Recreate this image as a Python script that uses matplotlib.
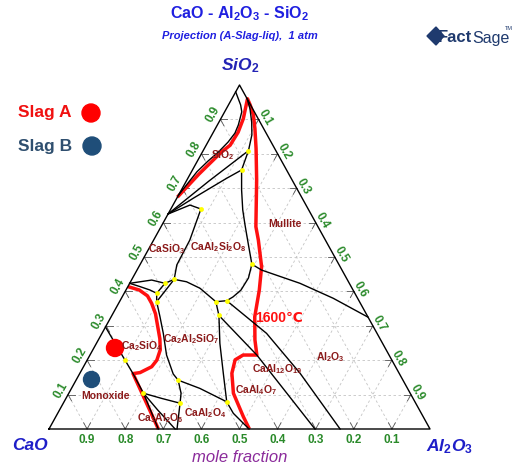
import matplotlib.pyplot as plt
import numpy as np
from matplotlib.patches import Circle, Polygon

plt.rcParams['font.family'] = ['Liberation Sans', 'DejaVu Sans']
plt.rcParams['mathtext.fontset'] = 'custom'
plt.rcParams['mathtext.rm'] = 'Liberation Sans:bold'
plt.rcParams['mathtext.it'] = 'Liberation Sans:italic:bold'
plt.rcParams['mathtext.bf'] = 'Liberation Sans:bold'

# all compositions are (Al2O3, SiO2) mole fractions, CaO = 1 - both
miscibility_gap = [(0.0, 0.68), (0.006, 0.709), (0.0145, 0.748), (0.028, 0.779), (0.042, 0.805),
                   (0.053, 0.834), (0.058, 0.860), (0.055, 0.884), (0.045, 0.922), (0.032, 0.942),
                   (0.0, 0.98)]
sio2_mullite = [(0.04, 0.96), (0.062, 0.931), (0.086, 0.892), (0.105, 0.855), (0.119, 0.809)]
silica_link = [(0.119, 0.809), (0.129, 0.753)]
silica_upper = [(0.0, 0.625), (0.0595, 0.721), (0.119, 0.809)]
silica_lower = [(0.0, 0.625), (0.0434, 0.671), (0.102, 0.729), (0.129, 0.753)]
silica_casio3 = [(0.0, 0.625), (0.0445, 0.651), (0.079, 0.6395)]
casio3_anorthite = [(0.079, 0.6395), (0.095, 0.549), (0.097, 0.477), (0.111, 0.435)]
anorthite_mullite = [(0.129, 0.753), (0.158, 0.695), (0.190, 0.637), (0.218, 0.593),
                     (0.256, 0.535), (0.293, 0.479)]
mullite_corundum = [(0.293, 0.479), (0.327, 0.462), (0.447, 0.4235), (0.556, 0.380), (0.675, 0.325)]
anorthite_corundum = [(0.293, 0.479), (0.304, 0.439), (0.302, 0.404), (0.291, 0.384), (0.280, 0.373)]
corundum_link = [(0.280, 0.373), (0.253, 0.370)]
anorthite_gehlenite = [(0.253, 0.370), (0.192, 0.409), (0.147, 0.428), (0.111, 0.435)]
gehlenite_right = [(0.253, 0.370), (0.281, 0.330), (0.324, 0.249), (0.3765, 0.162), (0.427, 0.079)]
ca_ca2 = [(0.427, 0.079), (0.461, 0.0456), (0.525, 0.0)]
ca2_ca6 = [(0.281, 0.330), (0.438, 0.215), (0.698, 0.0)]
ca6_corundum = [(0.280, 0.373), (0.432, 0.278), (0.578, 0.162), (0.764, 0.0)]
wollastonite_low = [(0.0, 0.4235), (0.053, 0.433), (0.0927, 0.4235), (0.111, 0.435)]
rankinite_low = [(0.0, 0.4235), (0.0317, 0.414), (0.063, 0.404), (0.0854, 0.3945), (0.0976, 0.370)]
rankinite_link = [(0.0927, 0.4235), (0.0854, 0.3945)]
gehlenite_top = [(0.111, 0.435), (0.0976, 0.370)]
c2s_gehlenite = [(0.0976, 0.370), (0.128, 0.3265), (0.161, 0.278), (0.201, 0.215),
                 (0.246, 0.160), (0.268, 0.142)]
gehlenite_ca = [(0.268, 0.142), (0.337, 0.118), (0.427, 0.079)]
gehlenite_c3a = [(0.268, 0.142), (0.2946, 0.104), (0.3065, 0.075)]
c3a_ca = [(0.196, 0.104), (0.251, 0.089), (0.3065, 0.075)]
c3a_low = [(0.196, 0.104), (0.258, 0.055), (0.331, 0.0)]
ca_low = [(0.3065, 0.075), (0.336, 0.0)]
monoxide_c2s = [(0.0, 0.2965), (0.099, 0.2006), (0.140, 0.161), (0.196, 0.104), (0.287, 0.0)]

black_lines = [miscibility_gap, sio2_mullite, silica_link, silica_upper, silica_lower, silica_casio3,
               casio3_anorthite, anorthite_mullite, mullite_corundum, anorthite_corundum,
               corundum_link, anorthite_gehlenite, gehlenite_right, ca_ca2, ca2_ca6, ca6_corundum,
               wollastonite_low, rankinite_low, rankinite_link, gehlenite_top, c2s_gehlenite,
               gehlenite_ca, gehlenite_c3a, c3a_ca, c3a_low, ca_low, monoxide_c2s]

# 1600 C isotherm
iso_1600_main = [(0.0, 0.674), (0.023, 0.741), (0.050, 0.805), (0.063, 0.825), (0.065, 0.863),
                 (0.059, 0.902), (0.041, 0.960), (0.057, 0.942), (0.080, 0.913), (0.104, 0.873),
                 (0.136, 0.815), (0.183, 0.724), (0.249, 0.588), (0.275, 0.549), (0.322, 0.472),
                 (0.350, 0.404), (0.377, 0.326), (0.411, 0.259), (0.438, 0.215), (0.402, 0.215),
                 (0.388, 0.201), (0.399, 0.162), (0.432, 0.104), (0.492, 0.036), (0.526, 0.0)]
iso_1600_c2s = [(0.0, 0.414), (0.035, 0.404), (0.065, 0.387), (0.087, 0.365), (0.112, 0.335),
                (0.137, 0.297), (0.160, 0.262), (0.177, 0.230), (0.183, 0.200), (0.179, 0.181),
                (0.157, 0.164), (0.140, 0.161), (0.287, 0.0)]

invariant_pts = [(0.119, 0.809), (0.129, 0.753), (0.079, 0.6395), (0.111, 0.435), (0.0927, 0.4235),
                 (0.0854, 0.3945), (0.0976, 0.370), (0.293, 0.479), (0.280, 0.373), (0.253, 0.370),
                 (0.281, 0.330), (0.427, 0.079), (0.268, 0.142), (0.3065, 0.075), (0.196, 0.104),
                 (0.099, 0.2006)]

slag_a = (0.0555, 0.2355)
slag_b = (0.0396, 0.1439)

ticks = [0.1, 0.2, 0.3, 0.4, 0.5, 0.6, 0.7, 0.8, 0.9]

phase_labels = [('SiO$_2$', 223, 155), ('Mullite', 285, 224), ('CaSiO$_3$', 167, 249),
                ('CaAl$_2$Si$_2$O$_8$', 218, 247), ('Ca$_2$SiO$_4$', 142, 346),
                ('Ca$_2$Al$_2$SiO$_7$', 191, 339), ('Al$_2$O$_3$', 330, 357),
                ('CaAl$_{12}$O$_{19}$', 277, 369), ('CaAl$_4$O$_7$', 256, 390),
                ('CaAl$_2$O$_4$', 205, 413), ('Ca$_3$Al$_2$O$_6$', 160, 418), ('Monoxide', 106, 396)]

# triangle corners in figure pixels
X0, Y0, W, H = 49.0, 429.0, 381.0, 344.0


def tern(pts):
    p = np.atleast_2d(np.array(pts, dtype=float))
    a, s = p[:, 0], p[:, 1]
    return X0 + W * a + 0.5 * W * s, Y0 - H * s


fig = plt.figure(figsize=(5.19, 4.66), dpi=100)
ax = fig.add_axes([0, 0, 1, 1])
ax.set_xlim(0, 519)
ax.set_ylim(466, 0)
ax.axis('off')

# grid
for v in ticks:
    for seg in ([(0, v), (1 - v, v)], [(v, 0), (v, 1 - v)], [(1 - v, 0), (0, 1 - v)]):
        x, y = tern(seg)
        ax.plot(x, y, color='#C4C4C4', lw=0.6, dashes=(3, 3), zorder=1)
    t = 0.018
    for seg in ([(v, 0), (v, t)], [(v, 0), (v - t, t)], [(0, v), (t, v)], [(0, v), (t, v - t)],
                [(v, 1 - v), (v, 1 - v - t)], [(v, 1 - v), (v - t, 1 - v)]):
        x, y = tern(seg)
        ax.plot(x, y, color='#555555', lw=0.6, zorder=2)

x, y = tern([(0, 0), (1, 0), (0, 1), (0, 0)])
ax.plot(x, y, color='black', lw=1.0, zorder=5)

for line in black_lines:
    x, y = tern(line)
    ax.plot(x, y, color='black', lw=1.0, zorder=4)

for line in (iso_1600_main, iso_1600_c2s):
    x, y = tern(line)
    ax.plot(x, y, color='#FF1010', lw=2.5, zorder=3, solid_capstyle='butt')

x, y = tern(invariant_pts)
ax.plot(x, y, 'o', color='#FFFF00', ms=3.5, mec='none', zorder=6)

x, y = tern(slag_a)
ax.add_patch(Circle((x[0], y[0]), 8.5, color='#FF0000', zorder=7))
x, y = tern(slag_b)
ax.add_patch(Circle((x[0], y[0]), 8, color='#1F4E79', zorder=7))

# tick labels
green = '#2A8A2A'
for v in ticks:
    x, y = tern((1 - v, 0))
    ax.text(x[0], y[0] + 11, f'{v:.1f}', color=green, fontsize=8.5, weight='bold', ha='center', va='center')
    x, y = tern((0, v))
    ax.text(x[0] - 7.5, y[0] - 4.5, f'{v:.1f}', color=green, fontsize=8.5, weight='bold',
            ha='center', va='center', rotation=60)
    x, y = tern((v, 1 - v))
    ax.text(x[0] + 6.5, y[0] - 2, f'{v:.1f}', color=green, fontsize=8.5, weight='bold',
            ha='center', va='center', rotation=-60)

for txt, px, py in phase_labels:
    ax.text(px, py, txt, color='#8B1A1A', fontsize=7.5, weight='bold', ha='center', va='center', zorder=8)

ax.text(279, 318, '1600℃', color='#FF1010', fontsize=10, weight='bold', ha='center', va='center', zorder=8)

# titles
blue = '#1F1FE0'
ax.text(239.5, 14, 'CaO - Al$_2$O$_3$ - SiO$_2$', color=blue, fontsize=11.5, weight='bold', ha='center', va='center')
ax.text(239.5, 36, 'Projection (A-Slag-liq),  1 atm', color=blue, fontsize=8, weight='bold',
        style='italic', ha='center', va='center')
ax.text(240, 66, r'SiO$_\mathit{2}$', color='#2323B5', fontsize=12.5, weight='bold', style='italic',
        ha='center', va='center')
ax.text(29.5, 445, 'CaO', color='#1E1EC8', fontsize=12.5, weight='bold', style='italic', ha='center', va='center')
ax.text(450, 447, r'Al$_\mathit{2}$O$_\mathit{3}$', color='#1E1EC8', fontsize=12.5, weight='bold',
        style='italic', ha='center', va='center')
ax.text(239.5, 457, 'mole fraction', color='#8B2B9B', fontsize=12, style='italic', ha='center', va='center')

# legend
ax.text(18, 113, 'Slag A', color='#F01010', fontsize=12.5, weight='bold', ha='left', va='center')
ax.add_patch(Circle((91, 113), 9, color='#FF0000'))
ax.text(18, 146, 'Slag B', color='#2F4F6F', fontsize=12.5, weight='bold', ha='left', va='center')
ax.add_patch(Circle((92, 146), 9, color='#1F4E79'))

# FactSage logo
navy = '#1F3A6E'
ax.add_patch(Polygon([(427, 36), (436, 27), (444, 36), (436, 45)], closed=True, color=navy))
ax.text(438, 38, 'Fact', color=navy, fontsize=12, weight='bold', ha='left', va='center')
ax.text(472, 38, 'Sage', color=navy, fontsize=11.5, ha='left', va='center')
ax.text(505, 29, 'TM', color=navy, fontsize=4, ha='left', va='center')

fig.savefig('out.png', dpi=100)
